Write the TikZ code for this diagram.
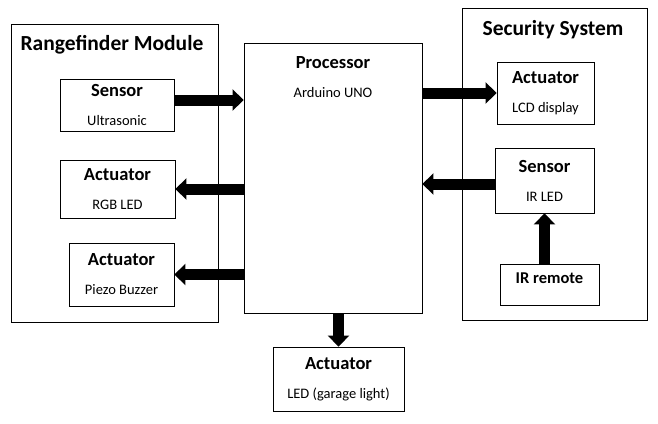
\documentclass[tikz,border=0pt]{standalone}
\usepackage{fontspec}
\setmainfont{Carlito}
\usetikzlibrary{arrows.meta}

\newcommand{\blk}[2]{{\fontsize{18.5}{29}\selectfont\bfseries #1}\\{\fontsize{14.5}{29}\selectfont #2}}

\begin{document}
\begin{tikzpicture}[x=1pt,y=-1pt,
    box/.style={draw,line width=0.8pt,align=center,font=\fontsize{14.5}{29}\selectfont},
    txt/.style={align=center,font=\fontsize{14.5}{29}\selectfont},
    grp/.style={draw,line width=0.8pt},
    ttl/.style={font=\fontsize{21.5}{24}\selectfont\bfseries},
    arr/.style={line width=11pt,-{Triangle[length=11pt,width=21pt]}}]
    \useasboundingbox (0,0) rectangle (658,423);
    \node[grp,minimum width=207,minimum height=298] (range) at (114.5,173) {};
    \node[ttl] (rangettl) at (112,45) {Rangefinder Module};
    \node[grp,minimum width=185,minimum height=312] (secu) at (554.5,164) {};
    \node[ttl] (secuttl) at (553,29.5) {Security System};
    \node[box,minimum width=178,minimum height=270] (proc) at (333,178) {};
    \node[txt] (proctxt) at (333,77) {\blk{Processor}{Arduino UNO}};
    \node[box,minimum width=114,minimum height=52] (sens) at (117,105) {\blk{Sensor}{Ultrasonic}};
    \node[box,minimum width=115,minimum height=58] (rgb) at (117.5,189) {\blk{Actuator}{RGB LED}};
    \node[box,minimum width=105,minimum height=63] (piezo) at (121.5,274.5) {\blk{Actuator}{Piezo Buzzer}};
    \node[box,minimum width=97,minimum height=62] (lcd) at (545.5,93) {\blk{Actuator}{LCD display}};
    \node[box,minimum width=99,minimum height=65] (irled) at (544.5,180.5) {\blk{Sensor}{IR LED}};
    \node[box,minimum width=99,minimum height=41,font=\fontsize{16.5}{20}\selectfont\bfseries,text depth=12pt] (irrem) at (549.5,284.5) {IR remote};
    \node[box,minimum width=131,minimum height=64] (garage) at (338.5,379) {\blk{Actuator}{LED (garage light)}};
    \draw[arr] ([yshift=5pt]sens.east) -- ([yshift=5pt]sens.east -| proc.west);
    \draw[arr] (proc.west |- rgb.east) -- (rgb.east);
    \draw[arr] (proc.west |- piezo.east) -- (piezo.east);
    \draw[arr] (proc.east |- lcd.west) -- (lcd.west);
    \draw[arr] ([yshift=-3.5pt]irled.west) -- ([yshift=-3.5pt]irled.west -| proc.east);
    \draw[arr] (proc.south -| garage.north) -- (garage.north);
    \draw[arr] (irled.south |- irrem.north) -- (irled.south);
\end{tikzpicture}
\end{document}
